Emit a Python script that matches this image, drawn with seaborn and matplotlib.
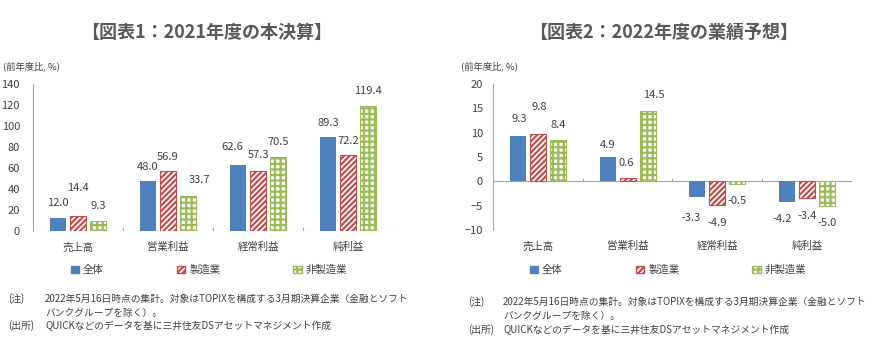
import numpy as np
import pandas as pd
import matplotlib
matplotlib.use("Agg")
import matplotlib.pyplot as plt
import seaborn as sns
from matplotlib.patches import Patch

# カテゴリと系列
categories = ["売上高", "営業利益", "経常利益", "純利益"]
series_names = ["全体", "製造業", "非製造業"]

# 図表1: 2021年度の本決算 (前年度比, %)
fy2021_all = [12.0, 48.0, 62.6, 89.3]
fy2021_mfg = [14.4, 56.9, 57.3, 72.2]
fy2021_nonmfg = [9.3, 33.7, 70.5, 119.4]

# 図表2: 2022年度の業績予想 (前年度比, %)
fy2022_all = [9.3, 4.9, -3.3, -4.2]
fy2022_mfg = [9.8, 0.6, -4.9, -3.4]
fy2022_nonmfg = [8.4, 14.5, -0.5, -5.0]

# ラベル位置の微調整 (px, 棒の端からの距離 / 横ずれ)
off2021 = [[15, 14, 18, 14], [28, 14, 16, 14], [15, 16, 15, 15]]
dx2021 = [[0, 0, -6, 0], [0, 0, 0, 0], [0, 11, 0, 0]]
off2022 = [[17, 12, 21, 17], [27, 15, 18, 18], [15, 16, 17, 17]]
dx2022 = [[1, 0, -6, -5], [1, -1, 0, 0], [0, 6, 0, 0]]

colors = ["#4F81BD", "#C0504D", "#9BBB59"]
hatches = [None, "//////", "+++"]
text_gray = "#595959"
axis_gray = "#A6A6A6"

sns.set_theme(style="white")
plt.rcParams["font.family"] = ["Noto Sans CJK JP", "DejaVu Sans"]
plt.rcParams["hatch.linewidth"] = 1.6
PX = 0.72  # px -> pt at 100 dpi


def style_bar(bar, i):
    if i == 0:
        bar.set_facecolor(colors[0])
        bar.set_edgecolor(colors[0])
        bar.set_linewidth(0)
    else:
        bar.set_facecolor("white")
        bar.set_edgecolor(colors[i])
        bar.set_hatch(hatches[i])
        bar.set_linewidth(0.8)


def draw_panel(ax, vals, ylim, yticks, offs, dxs, ypad):
    df = pd.DataFrame({
        "区分": categories * 3,
        "系列": np.repeat(series_names, len(categories)),
        "値": vals[0] + vals[1] + vals[2],
    })
    sns.barplot(data=df, x="区分", y="値", hue="系列", order=categories,
                hue_order=series_names, palette=colors, saturation=1,
                width=0.667, gap=0.2, errorbar=None, legend=False, ax=ax)

    for i, cont in enumerate(ax.containers):
        for j, bar in enumerate(cont):
            style_bar(bar, i)
            v = vals[i][j]
            cx = bar.get_x() + bar.get_width() / 2
            sign = 1 if v >= 0 else -1
            ax.annotate(f"{v:.1f}", (cx, v), xytext=(dxs[i][j] * PX, sign * offs[i][j] * PX),
                        textcoords="offset points", ha="center", va="center",
                        fontsize=8, color="#404040")

    ax.set_xlim(-0.5, 3.5)
    ax.set_ylim(*ylim)
    ax.set_yticks(yticks)
    ax.set_xlabel("")
    ax.set_ylabel("")
    ax.tick_params(axis="y", length=0, pad=ypad, labelsize=8, labelcolor="#404040")
    ax.tick_params(axis="x", length=0, pad=8, labelsize=7.5, labelcolor="#404040")
    for s in ["top", "right", "bottom"]:
        ax.spines[s].set_visible(False)
    ax.spines["left"].set_color(axis_gray)
    ax.spines["left"].set_linewidth(0.8)
    # 横軸 (0の位置) と区切りの目盛り
    ax.axhline(0, color=axis_gray, lw=0.8, zorder=0.5)
    tick_h = (ylim[1] - ylim[0]) * 0.025
    ax.vlines([0.5, 1.5, 2.5, 3.5], 0, tick_h, color=axis_gray, lw=0.8)

    handles = [Patch(facecolor=colors[0], edgecolor=colors[0])]
    handles += [Patch(facecolor="white", edgecolor=colors[i], hatch=hatches[i]) for i in (1, 2)]
    return handles


fig = plt.figure(figsize=(8.76, 3.57), dpi=100)
W, H = 876, 357


def axes_px(x0, x1, ytop, ybot):
    return fig.add_axes([x0 / W, 1 - ybot / H, (x1 - x0) / W, (ybot - ytop) / H])


ax1 = axes_px(33, 393, 84, 231)
ax2 = axes_px(493, 852, 84, 230)

h1 = draw_panel(ax1, [fy2021_all, fy2021_mfg, fy2021_nonmfg], (0, 140),
                range(0, 141, 20), off2021, dx2021, 13 * PX)
h2 = draw_panel(ax2, [fy2022_all, fy2022_mfg, fy2022_nonmfg], (-10, 20),
                range(-10, 21, 5), off2022, dx2022, 10 * PX)

# タイトル
fig.text(207 / W, 1 - 32 / H, "【図表1：2021年度の本決算】", ha="center", va="center",
         fontsize=13, fontweight="bold", color=text_gray)
fig.text(664 / W, 1 - 32 / H, "【図表2：2022年度の業績予想】", ha="center", va="center",
         fontsize=13, fontweight="bold", color=text_gray)

# 単位
fig.text(3 / W, 1 - 66 / H, "(前年度比, %)", ha="left", va="center", fontsize=6.7, color="#404040")
fig.text(461 / W, 1 - 66 / H, "(前年度比, %)", ha="left", va="center", fontsize=6.7, color="#404040")

# 凡例
for hs, cx in [(h1, 209 / W), (h2, 668 / W)]:
    fig.legend(hs, series_names, loc="center", bbox_to_anchor=(cx, 1 - 270 / H), ncol=3,
               frameon=False, fontsize=7.5, handlelength=0.8, handleheight=0.8,
               handletextpad=0.4, columnspacing=7.0, labelcolor="#404040")

# 注記
notes = [
    ("(注)", "2022年5月16日時点の集計。対象はTOPIXを構成する3月期決算企業（金融とソフト"),
    ("", "バンクグループを除く）。"),
    ("(出所)", "QUICKなどのデータを基に三井住友DSアセットマネジメント作成"),
]
for x_head, x_body, ys in [(8, 45, [299, 313, 326]), (468, 503, [302, 316, 330])]:
    for (head, body), y in zip(notes, ys):
        if head:
            fig.text(x_head / W, 1 - y / H, head, ha="left", va="center", fontsize=7.0, color="#404040")
        fig.text(x_body / W, 1 - y / H, body, ha="left", va="center", fontsize=7.0, color="#404040")

fig.savefig("out.png", dpi=100)
